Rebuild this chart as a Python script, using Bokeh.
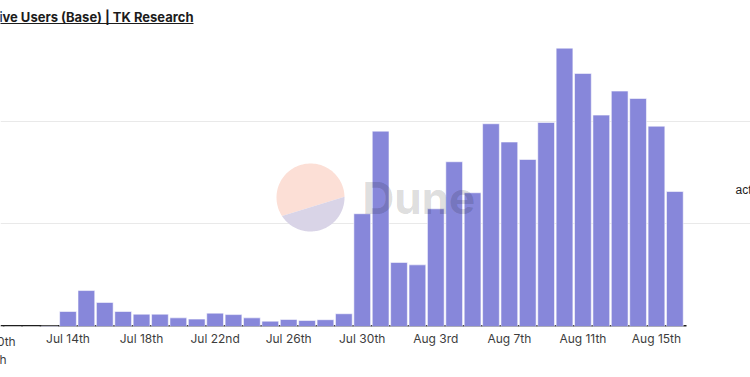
from datetime import datetime
import numpy as np
from bokeh.plotting import figure
from bokeh.models import Range1d, FixedTicker, Label, ColumnDataSource, DatetimeAxis
from bokeh.embed import file_html
from bokeh.resources import INLINE

# ---------------- data ----------------
dates = [
    "2023-07-10", "2023-07-11", "2023-07-12", "2023-07-13", "2023-07-14", "2023-07-15",
    "2023-07-16", "2023-07-17", "2023-07-18", "2023-07-19", "2023-07-20", "2023-07-21",
    "2023-07-22", "2023-07-23", "2023-07-24", "2023-07-25", "2023-07-26", "2023-07-27",
    "2023-07-28", "2023-07-29", "2023-07-30", "2023-07-31", "2023-08-01", "2023-08-02",
    "2023-08-03", "2023-08-04", "2023-08-05", "2023-08-06", "2023-08-07", "2023-08-08",
    "2023-08-09", "2023-08-10", "2023-08-11", "2023-08-12", "2023-08-13", "2023-08-14",
    "2023-08-15", "2023-08-16",
]
active_users = [
    0, 0, 0, 200, 7300, 17500,
    11700, 7300, 6000, 6000, 4200, 3600,
    6500, 5800, 4200, 2600, 3400, 2900,
    3300, 6200, 54900, 95100, 31200, 30000,
    57300, 80200, 65100, 98700, 89800, 81300,
    99300, 135500, 123200, 102900, 114600, 111000,
    97500, 65700,
]
tick_dates = ["2023-07-10", "2023-07-14", "2023-07-18", "2023-07-22", "2023-07-26",
              "2023-07-30", "2023-08-03", "2023-08-07", "2023-08-11", "2023-08-15"]
tick_labels = ["Jul 10th", "Jul 14th", "Jul 18th", "Jul 22nd", "Jul 26th",
               "Jul 30th", "Aug 3rd", "Aug 7th", "Aug 11th", "Aug 15th"]
grid_values = [50000, 100000]
title_text = "Daily Active Users (Base) | TK Research"
series_name = "active_users"
x_title = "month"

# ---------------- helpers ----------------
EPOCH = datetime(1970, 1, 1)
DAY = 86400000
NBSP = "\u00a0"


def to_ms(s):
    return int((datetime.strptime(s, "%Y-%m-%d") - EPOCH).total_seconds() * 1000)


x_ms = [to_ms(d) for d in dates]
tick_ms = [to_ms(d) for d in tick_dates]

W, H = 750, 377
PLOT_R = 686    # right edge of the chart area (px)
FRAME_B = 326   # frame bottom edge (px)
PX_PER_DAY = 18.39
X_START_OFF = 0.33  # days after first date at the frame's left edge

source = ColumnDataSource(data=dict(x=x_ms, users=active_users))

x0 = x_ms[0]
x_start = x0 + X_START_OFF * DAY
x_end = x_start + (W / PX_PER_DAY) * DAY
x_plot_r = x_start + (PLOT_R / PX_PER_DAY) * DAY

p = figure(
    width=W, height=H,
    x_axis_type="datetime",
    x_range=Range1d(x_start, x_end),
    y_range=Range1d(0, 158700),
    y_axis_location=None,
    toolbar_location=None,
    output_backend="svg",
    min_border_left=0, min_border_right=0,
    min_border_top=0, min_border_bottom=H - FRAME_B,
    title=None,
)
p.outline_line_color = None
p.background_fill_color = "white"
p.border_fill_color = "white"
p.xgrid.visible = False
p.ygrid.ticker = FixedTicker(ticks=grid_values)
p.ygrid.grid_line_color = "#e9e9e9"
p.ygrid.grid_line_width = 1
p.ygrid.bounds = (x_start, x_plot_r)

# pixel-coordinate ranges for decorations inside the frame
p.extra_x_ranges["px"] = Range1d(0, W)
p.extra_y_ranges["px"] = Range1d(FRAME_B, 0)

# dark baseline under the bars
p.segment(x0=[0], y0=[FRAME_B - 0.5], x1=[PLOT_R], y1=[FRAME_B - 0.5],
          line_color="#1e1e1e", line_width=2, level="underlay",
          x_range_name="px", y_range_name="px")

p.vbar(x="x", top="users", width=0.91 * DAY, source=source,
       fill_color="#8787da", line_color="#ffffff", line_alpha=0.55, line_width=1)


def style_axis(a):
    a.axis_line_color = None
    a.major_tick_line_color = None
    a.minor_tick_line_color = None
    a.major_tick_out = 0
    a.major_tick_in = 0
    a.minor_tick_out = 0
    a.minor_tick_in = 0
    a.major_label_text_font = "Inter"
    a.major_label_text_font_size = "12px"
    a.major_label_text_color = "#3d3d3d"
    a.axis_label_text_font = "Inter"
    a.axis_label_text_font_size = "12px"
    a.axis_label_text_font_style = "normal"
    a.axis_label_text_color = "#3d3d3d"
    a.axis_label_align = "start"


# main x axis: tick labels; its first tick sits just left of the frame,
# so that label is carried by the axis label, anchored at the axis start
ax = p.xaxis[0]
style_axis(ax)
ax.ticker = FixedTicker(ticks=tick_ms[1:])
ax.major_label_overrides = {t: l for t, l in zip(tick_ms, tick_labels)}
ax.major_label_standoff = 4
ax.axis_label = tick_labels[0] + NBSP * 4
ax.axis_label_standoff = -15

# second below axis carrying the x-axis title
ax2 = DatetimeAxis(ticker=FixedTicker(ticks=[]))
style_axis(ax2)
ax2.major_label_standoff = 0
ax2.axis_label = x_title + NBSP * 7
ax2.axis_label_standoff = 0
p.add_layout(ax2, "below")

# Dune watermark logo (decoration, pixel coordinates)
cx, cy, r = 310, 197, 34
a1 = np.radians(np.linspace(1.4, 213, 80))
a2 = np.radians(np.linspace(213, 361.4, 80))
p.patch(cx + r * np.cos(a1), cy - r * np.sin(a1), fill_color="#fcdfd6",
        line_color=None, x_range_name="px", y_range_name="px")
p.patch(cx + r * np.cos(a2), cy - r * np.sin(a2), fill_color="#d9d4e7",
        line_color=None, x_range_name="px", y_range_name="px")

p.add_layout(Label(x=362, y=197.5, text="Dune", x_range_name="px", y_range_name="px",
                   text_font="Inter", text_font_style="bold", text_font_size="44px",
                   text_color="#000000", text_alpha=0.15, text_baseline="middle",
                   text_align="left"))

# title (left part clipped by the window)
p.add_layout(Label(x=193, y=16, text=title_text, x_range_name="px", y_range_name="px",
                   text_font="Inter", text_font_style="bold", text_font_size="13px",
                   text_color="#1c1c1c", text_baseline="middle", text_align="right"))
p.segment(x0=[-150], y0=[23], x1=[193], y1=[23], line_color="#1c1c1c",
          line_width=1, x_range_name="px", y_range_name="px")

# legend text on the right (clipped by the window)
p.add_layout(Label(x=735, y=189, text=series_name, x_range_name="px", y_range_name="px",
                   text_font="Liberation Sans", text_font_size="12px",
                   text_color="#222222", text_baseline="middle", text_align="left"))

open("out.html", "w").write(file_html(p, INLINE))
